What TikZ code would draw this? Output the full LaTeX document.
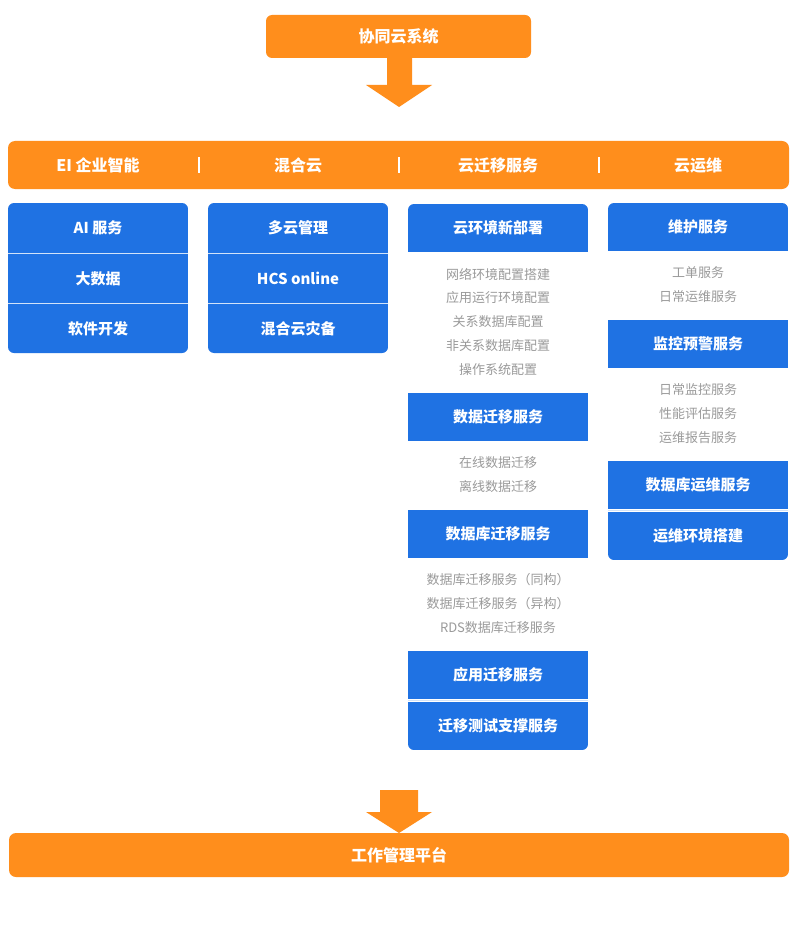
\documentclass[tikz,border=0pt]{standalone}
\usepackage{fontspec}
\setmainfont{Noto Sans CJK SC}
\definecolor{org}{HTML}{FF8E1C}
\definecolor{blu}{HTML}{1F72E3}
\definecolor{gtx}{HTML}{9A9A9A}
\begin{document}
\begin{tikzpicture}[x=1pt,y=-1pt,
  bx/.style={fill=blu,draw=none,minimum width=180pt,minimum height=48pt,text=white,font=\fontsize{15}{18}\selectfont\bfseries,inner sep=0pt},
  gt/.style={text=gtx,font=\fontsize{13}{16}\selectfont},
  hd/.style={text=white,font=\fontsize{16}{19}\selectfont\bfseries},
  sep/.style={draw=white,line width=1.2pt}]
\useasboundingbox (0,0) rectangle (798,928);
\fill[white] (0,0) rectangle (798,928);
% top
\node[fill=org,rounded corners=6pt,minimum width=265pt,minimum height=43pt,hd,inner sep=0pt] (top) at (398.5,36.5) {协同云系统};
\fill[org] (387,58) -- (412,58) -- (412,85) -- (432,85) -- (399,107) -- (366,85) -- (387,85) -- cycle;
% bar
\node[fill=org,rounded corners=7pt,minimum width=781pt,minimum height=48pt,inner sep=0pt] (bar) at (398.5,165) {};
\node[hd] (h1) at (98,165) {EI 企业智能};
\node[hd] (h2) at (298,165) {混合云};
\node[hd] (h3) at (498,165) {云迁移服务};
\node[hd] (h4) at (698,165) {云运维};
\foreach \x in {199,399,599} \draw[white,line width=1.5pt] (\x,157) -- (\x,173);
% col1
\begin{scope}
\clip[rounded corners=6pt] (8,203) rectangle (188,353);
\node[bx,minimum height=51pt] (a1) at (98,228) {AI 服务};
\node[bx,minimum height=51pt] (a2) at (98,278.5) {大数据};
\node[bx,minimum height=51pt] (a3) at (98,328.5) {软件开发};
\draw[sep,draw=white!80!blu] (8,253.3) -- (188,253.3) (8,303.7) -- (188,303.7);
\end{scope}
\begin{scope}
\clip[rounded corners=6pt] (208,203) rectangle (388,353);
\node[bx,minimum height=51pt] (b1) at (298,228) {多云管理};
\node[bx,minimum height=51pt] (b2) at (298,278.5) {HCS online};
\node[bx,minimum height=51pt] (b3) at (298,328.5) {混合云灾备};
\draw[sep,draw=white!80!blu] (208,253.3) -- (388,253.3) (208,303.7) -- (388,303.7);
\end{scope}
% col3
\begin{scope}
\clip[rounded corners=6pt] (408,204) rectangle (588,750);
\node[bx] (c1) at (498,228) {云环境新部署};
\node[bx] (c2) at (498,417) {数据迁移服务};
\node[bx] (c3) at (498,534) {数据库迁移服务};
\node[bx] (c4) at (498,675) {应用迁移服务};
\node[bx] (c5) at (498,726) {迁移测试支撑服务};
\draw[sep,draw=white!80!blu] (408,700.5) -- (588,700.5);
\end{scope}
\foreach \t/\y in {网络环境配置搭建/274,应用运行环境配置/298,关系数据库配置/322,非关系数据库配置/346,操作系统配置/370,在线数据迁移/463,离线数据迁移/487,数据库迁移服务（同构）/580,数据库迁移服务（异构）/604,RDS数据库迁移服务/628}
  \node[gt] at (498,\y) {\t};
% col4
\begin{scope}
\clip[rounded corners=6pt] (608,203) rectangle (788,560);
\node[bx] (d1) at (698,227) {维护服务};
\node[bx] (d2) at (698,344) {监控预警服务};
\node[bx] (d3) at (698,485) {数据库运维服务};
\node[bx] (d4) at (698,536) {运维环境搭建};
\draw[sep,draw=white!80!blu] (608,510.5) -- (788,510.5);
\end{scope}
\foreach \t/\y in {工单服务/273,日常运维服务/297,日常监控服务/390,性能评估服务/414,运维报告服务/438}
  \node[gt] at (698,\y) {\t};
% bottom
\fill[org] (380,790) -- (418,790) -- (418,812) -- (432,812) -- (399,833) -- (366,812) -- (380,812) -- cycle;
\node[fill=org,rounded corners=7pt,minimum width=780pt,minimum height=44pt,hd,inner sep=0pt] (bot) at (399,855) {工作管理平台};
\end{tikzpicture}
\end{document}
